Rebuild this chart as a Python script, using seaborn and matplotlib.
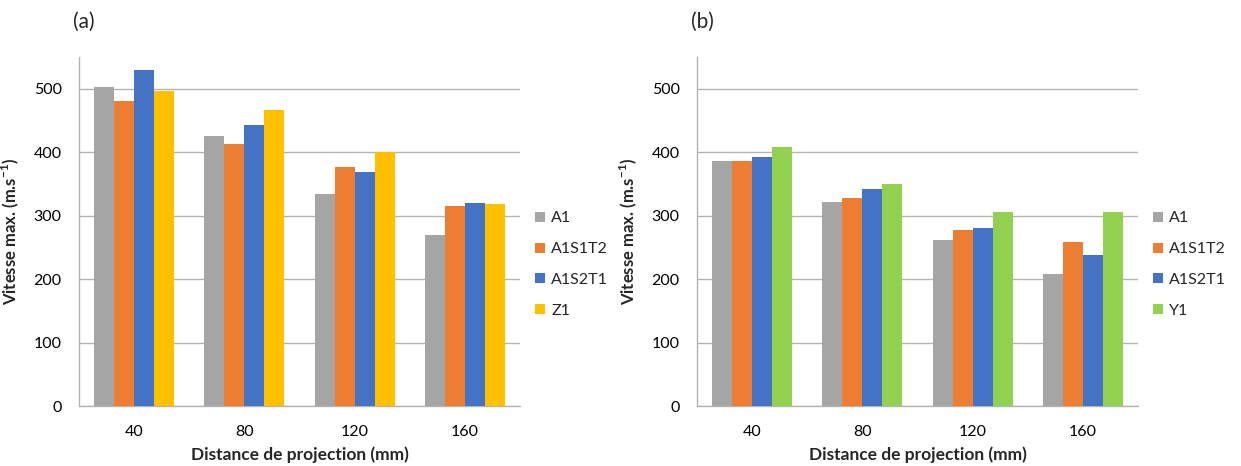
import matplotlib
matplotlib.use("Agg")
import matplotlib.pyplot as plt
import seaborn as sns
import pandas as pd
from matplotlib.ticker import FixedLocator

# ---- data ----
distances = ["40", "80", "120", "160"]
series_a = ["A1", "A1S1T2", "A1S2T1", "Z1"]
series_b = ["A1", "A1S1T2", "A1S2T1", "Y1"]

a_A1 = [503, 425, 334, 269]
a_A1S1T2 = [480, 413, 376, 315]
a_A1S2T1 = [529, 443, 368, 320]
a_Z1 = [497, 466, 400, 319]

b_A1 = [386, 321, 262, 208]
b_A1S1T2 = [386, 328, 278, 259]
b_A1S2T1 = [392, 342, 280, 238]
b_Y1 = [408, 350, 306, 305]

colors_a = ["#A5A5A5", "#ED7D31", "#4472C4", "#FFC000"]
colors_b = ["#A5A5A5", "#ED7D31", "#4472C4", "#92D050"]

yticks = [0, 100, 200, 300, 400, 500]


def long_df(series, values):
    rows = []
    for s, vals in zip(series, values):
        for d, v in zip(distances, vals):
            rows.append({"distance": d, "serie": s, "vitesse": v})
    return pd.DataFrame(rows)


df_a = long_df(series_a, [a_A1, a_A1S1T2, a_A1S2T1, a_Z1])
df_b = long_df(series_b, [b_A1, b_A1S1T2, b_A1S2T1, b_Y1])

sns.set_style("white")
plt.rcParams["font.family"] = ["Lato", "DejaVu Sans"]
plt.rcParams["mathtext.fontset"] = "custom"
plt.rcParams["mathtext.rm"] = "Lato"
plt.rcParams["mathtext.bf"] = "Lato:bold"

W, H = 1241, 466
fig = plt.figure(figsize=(W / 100, H / 100), dpi=100)

grid_c = "#B3B3B3"
axes_specs = [
    (79, df_a, series_a, colors_a, "(a)"),
    (697, df_b, series_b, colors_b, "(b)"),
]
ax_w, ax_top, ax_bot = 441, 57, 406

for left, df, series, colors, tag in axes_specs:
    ax = fig.add_axes([left / W, (H - ax_bot) / H, ax_w / W, (ax_bot - ax_top) / H])
    sns.barplot(data=df, x="distance", y="vitesse", hue="serie",
                order=distances, hue_order=series, palette=colors,
                width=0.725, linewidth=0, saturation=1, ax=ax, zorder=3)
    ax.set_ylim(0, 550)
    ax.set_xlim(-0.5, 3.5)
    ax.set_yticks(yticks)
    ax.yaxis.grid(True, color=grid_c, linewidth=1.0, zorder=0)
    ax.set_axisbelow(True)
    for sp in ["top", "right"]:
        ax.spines[sp].set_visible(False)
    for sp in ["left", "bottom"]:
        ax.spines[sp].set_color(grid_c)
        ax.spines[sp].set_linewidth(1.0)
    ax.tick_params(axis="y", which="major", length=4.5, color=grid_c,
                   labelsize=11.5, pad=8, labelcolor="#000000")
    ax.tick_params(axis="x", which="major", length=0, labelsize=11.5, pad=14,
                   labelcolor="#000000")
    ax.xaxis.set_minor_locator(FixedLocator([-0.5, 0.5, 1.5, 2.5, 3.5]))
    ax.tick_params(axis="x", which="minor", length=4.5, color=grid_c, width=1.0)
    ax.set_xlabel("Distance de projection (mm)", fontsize=12.5,
                  fontweight="bold", labelpad=5)
    ax.set_ylabel("Vitesse max. (m.s$^{\\mathbf{-1}}$)", fontsize=12,
                  fontweight="bold", labelpad=9)
    ax.legend(loc="center left", bbox_to_anchor=(1.02, 0.405), frameon=False,
              fontsize=11.5, handlelength=0.6, handleheight=0.6,
              handletextpad=0.4, labelspacing=1.05, borderaxespad=0)
    fig.text((left + 5) / W, 1 - 22 / H, tag, fontsize=15, ha="center",
             va="center")

fig.savefig("out.png", dpi=100)
